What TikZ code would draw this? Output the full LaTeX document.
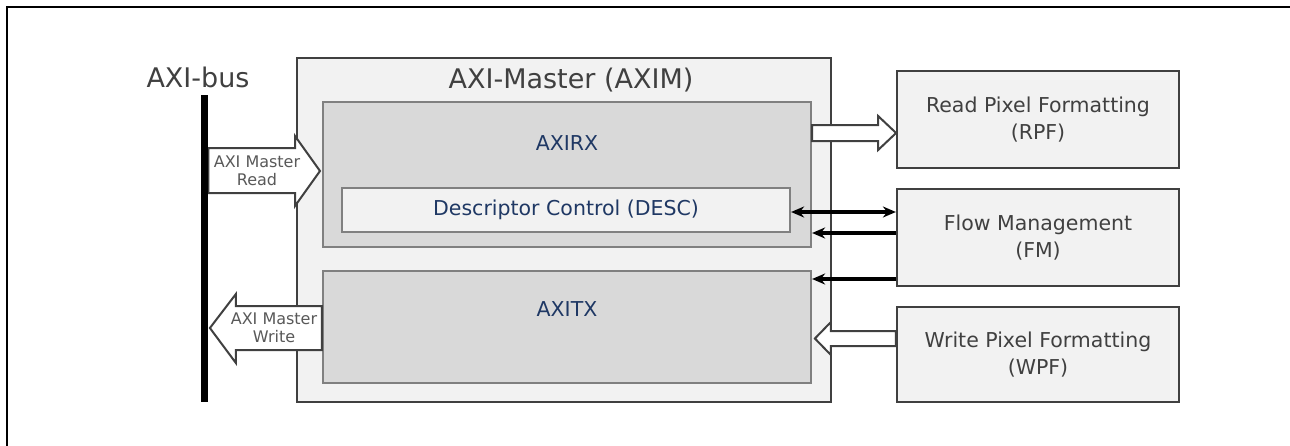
\documentclass[tikz,border=0pt]{standalone}
\usepackage{fontspec}
\setmainfont{DejaVu Sans}
\usetikzlibrary{arrows.meta,positioning}
\definecolor{axline}{HTML}{404040}
\definecolor{axgray}{HTML}{808080}
\definecolor{axlight}{HTML}{F2F2F2}
\definecolor{axmid}{HTML}{D9D9D9}
\definecolor{axnavy}{HTML}{1F3864}
\definecolor{axtag}{HTML}{595959}

\begin{document}
\begin{tikzpicture}[x=1pt, y=-1pt,
  blk/.style={rectangle, draw=axline, fill=axlight, line width=2.2pt, align=center,
              text=axline, font=\fontsize{20.5pt}{27pt}\selectfont},
  sub/.style={rectangle, draw=axgray, fill=axmid, line width=2.2pt},
  lbl/.style={text=axnavy, font=\fontsize{20.5pt}{27pt}\selectfont},
  big/.style={text=axline, font=\fontsize{27pt}{32pt}\selectfont},
  hollow/.style={draw=axline, fill=white, line width=2pt, line join=miter},
  link/.style={-{Stealth[length=13pt,width=11pt]}, draw=black, line width=3.4pt},
  tag/.style={align=center, text=axtag, font=\fontsize{16pt}{18.5pt}\selectfont}
]
\useasboundingbox (0,0) rectangle (1290,445);
\draw[line width=2.4pt] (7,7) rectangle (1320,470);

\node[blk, minimum width=534pt, minimum height=344pt] (axim) at (564,230) {};
\node[big] (title) at (571,80) {AXI-Master (AXIM)};
\node[sub, minimum width=488pt, minimum height=145pt] (rx) at (567,174.5) {};
\node[lbl] (rxlbl) at (567,143) {AXIRX};
\node[blk, lbl, draw=axgray, minimum width=448pt, minimum height=44pt] (desc) at (566,210) {Descriptor Control (DESC)};
\node[sub, minimum width=488pt, minimum height=112pt] (tx) at (567,327) {};
\node[lbl] (txlbl) at (567,309) {AXITX};

\node[blk, minimum width=282pt, minimum height=97pt] (rpf) at (1038,119.5) {Read Pixel Formatting\\(RPF)};
\node[blk, minimum width=282pt, minimum height=97pt] (fm) at (1038,237.5) {Flow Management\\(FM)};
\node[blk, minimum width=282pt, minimum height=95pt] (wpf) at (1038,354.5) {Write Pixel Formatting\\(WPF)};

\node[big] (buslbl) at (198,77) {AXI-bus};
\coordinate (bustop) at (204.5,95);
\coordinate (busbot) at (204.5,402);

\draw[hollow] ([yshift=49.5pt]rx.east) -- ++(66,0) -- ++(0,-9) -- ++(18,17) -- ++(-18,17)
  -- ++(0,-9) -- ++(-66,0) -- cycle;
\draw[hollow] ([yshift=23.5pt]wpf.west) -- ++(-65,0) -- ++(0,-9) -- ++(-16,16.5) -- ++(16,16.5)
  -- ++(0,-9) -- ++(65,0) -- cycle;
\draw[hollow] ([xshift=3.8pt,yshift=-53pt]bustop) -- ++(86.7,0) -- ++(0,-12) -- ++(25,35)
  -- ++(-25,35) -- ++(0,-13) -- ++(-86.7,0) -- cycle;
\draw[hollow] ([yshift=21pt]tx.west) -- ++(-86,0) -- ++(0,-12) -- ++(-26,34) -- ++(26,35)
  -- ++(0,-13) -- ++(86,0) -- cycle;

\draw[link, {Stealth[length=13pt,width=11pt]}-{Stealth[length=13pt,width=11pt]}] ([yshift=-2pt]desc.east) -- ([yshift=-2pt]desc.east -| fm.west);
\draw[link] ([yshift=4.5pt]fm.west) coordinate (fmup) -- (fmup -| rx.east);
\draw[link] ([yshift=-41.5pt]fm.west) coordinate (fmdn) -- (fmdn -| tx.east);

\draw[line width=7.6pt] (bustop) -- (busbot);

\node[tag] (rdlbl) at (257,171) {AXI Master\\Read};
\node[tag] (wrlbl) at (274,328) {AXI Master\\Write};
\end{tikzpicture}
\end{document}
